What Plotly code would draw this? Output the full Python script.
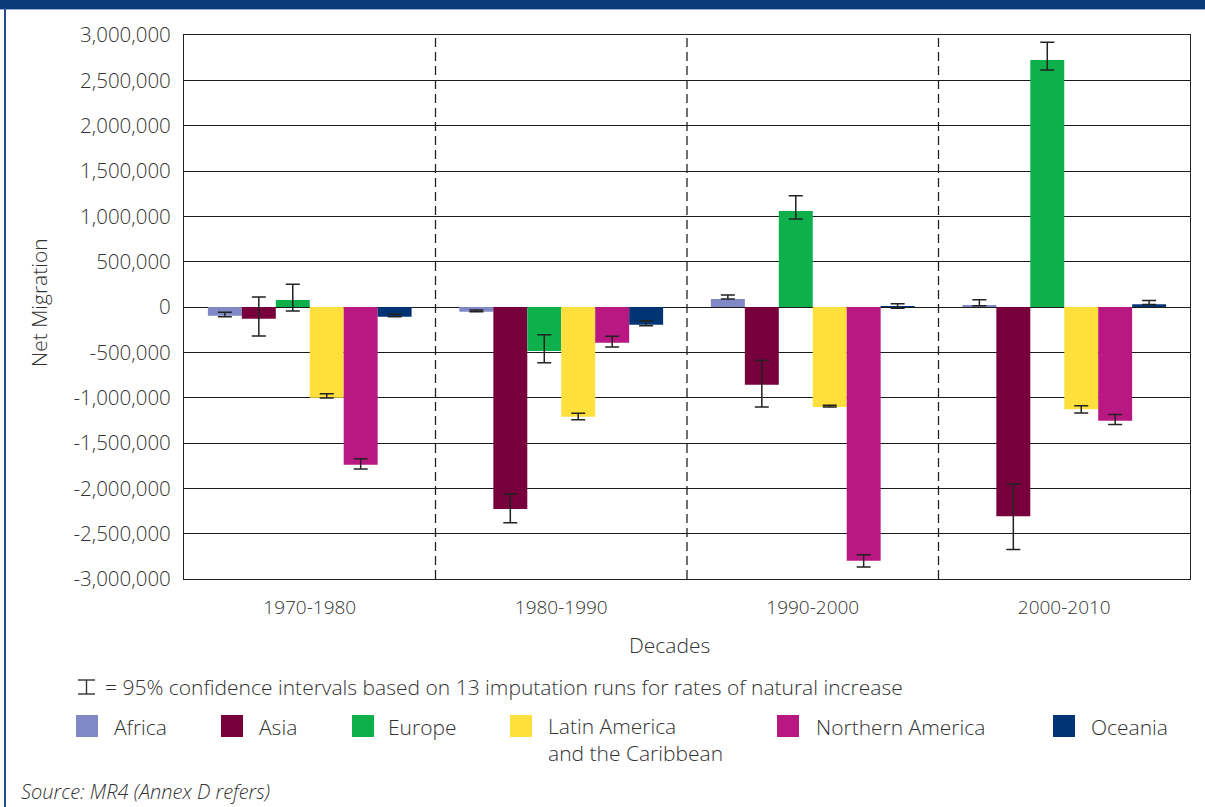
import plotly.graph_objects as go

# ---------------- data ----------------
decades = ["1970-1980", "1980-1990", "1990-2000", "2000-2010"]
regions = ["Africa", "Asia", "Europe", "Latin America and the Caribbean",
           "Northern America", "Oceania"]
legend_labels = ["Africa", "Asia", "Europe", "Latin America<br>and the Caribbean",
                 "Northern America", "Oceania"]
colors = ["#8088C6", "#77003C", "#0DB04B", "#FEDF3B", "#B91781", "#003473"]

africa = [-96000, -52000, 88000, 22000]
asia = [-129000, -2228000, -857000, -2309000]
europe = [77000, -485000, 1059000, 2724000]
latin = [-1000000, -1210000, -1103000, -1128000]
n_america = [-1739000, -394000, -2798000, -1254000]
oceania = [-107000, -195000, 5000, 30000]

# 95% confidence interval bounds (upper, lower)
africa_ci_hi = [-58000, -33000, 132000, 81000]
africa_ci_lo = [-107000, -52000, 88000, 14000]
asia_ci_hi = [110000, -2062000, -588000, -1951000]
asia_ci_lo = [-320000, -2379000, -1103000, -2676000]
europe_ci_hi = [250000, -305000, 1228000, 2921000]
europe_ci_lo = [-44000, -614000, 971000, 2614000]
latin_ci_hi = [-956000, -1172000, -1084000, -1089000]
latin_ci_lo = [-1003000, -1243000, -1103000, -1168000]
n_america_ci_hi = [-1673000, -323000, -2732000, -1187000]
n_america_ci_lo = [-1787000, -441000, -2868000, -1297000]
oceania_ci_hi = [-81000, -151000, 36000, 73000]
oceania_ci_lo = [-107000, -206000, -14000, 27000]

y_tickvals = [3000000, 2500000, 2000000, 1500000, 1000000, 500000, 0,
              -500000, -1000000, -1500000, -2000000, -2500000, -3000000]
y_ticktext = ["3,000,000", "2,500,000", "2,000,000", "1,500,000", "1,000,000",
              "500,000", "0", "-500,000", "-1,000,000", "-1,500,000",
              "-2,000,000", "-2,500,000", "-3,000,000"]

series = [africa, asia, europe, latin, n_america, oceania]
ci_hi = [africa_ci_hi, asia_ci_hi, europe_ci_hi, latin_ci_hi, n_america_ci_hi, oceania_ci_hi]
ci_lo = [africa_ci_lo, asia_ci_lo, europe_ci_lo, latin_ci_lo, n_america_ci_lo, oceania_ci_lo]

# ---------------- figure ----------------
W, H = 1205, 807
L, R, T, B = 184, 15, 35, 228
PW, PH = W - L - R, H - T - B

def xp(px):
    return (px - L) / PW

def yp(py):
    return (H - B - py) / PH

FONT = "'Open Sans', Lato, sans-serif"
WT = 300
TXT = "#333333"

def f(size):
    return dict(family=FONT, size=size, color=TXT, weight=WT)

fig = go.Figure()
for name, vals, hi, lo, col in zip(regions, series, ci_hi, ci_lo, colors):
    plus = [max(0, h - v) for h, v in zip(hi, vals)]
    minus = [max(0, v - l) for l, v in zip(lo, vals)]
    fig.add_trace(go.Bar(
        name=name, x=decades, y=vals, marker=dict(color=col, line=dict(width=0)),
        error_y=dict(type="data", array=plus, arrayminus=minus, symmetric=False,
                     color="#222222", thickness=1.5, width=7),
        showlegend=False,
    ))

shapes = []
# dashed separators between decades
for i in range(len(decades) - 1):
    shapes.append(dict(type="line", xref="x", yref="paper", x0=i + 0.5, x1=i + 0.5,
                       y0=0, y1=1, line=dict(color="#222222", width=1.3, dash="9px,5px"),
                       layer="above"))
# top band and left border
shapes.append(dict(type="rect", xref="paper", yref="paper", x0=xp(0), x1=xp(W),
                   y0=yp(9), y1=yp(-2), fillcolor="#0A3A78", line=dict(width=0)))
shapes.append(dict(type="line", xref="paper", yref="paper", x0=xp(0), x1=xp(W),
                   y0=yp(9.5), y1=yp(9.5), line=dict(color="#9DB3D6", width=1)))
shapes.append(dict(type="line", xref="paper", yref="paper", x0=xp(5), x1=xp(5),
                   y0=yp(H), y1=yp(8), line=dict(color="#1F4F8F", width=2)))
# error bar symbol in note
sx0, sx1, sxc = 78, 95, 86.5
shapes.append(dict(type="line", xref="paper", yref="paper", x0=xp(sxc), x1=xp(sxc),
                   y0=yp(694), y1=yp(680), line=dict(color=TXT, width=1.4)))
for sy in (680, 694):
    shapes.append(dict(type="line", xref="paper", yref="paper", x0=xp(sx0), x1=xp(sx1),
                       y0=yp(sy), y1=yp(sy), line=dict(color=TXT, width=1.4)))

annotations = []
# legend
sq_left = [76, 221, 352, 510, 777, 1053]
txt_left = [113, 258, 387, 547, 815, 1090]
for lab, col, sl, tl in zip(legend_labels, colors, sq_left, txt_left):
    shapes.append(dict(type="rect", xref="paper", yref="paper", x0=xp(sl), x1=xp(sl + 22),
                       y0=yp(737), y1=yp(715), fillcolor=col, line=dict(width=0)))
    n_lines = lab.count("<br>") + 1
    annotations.append(dict(text=lab, xref="paper", yref="paper", x=xp(tl - 1),
                            y=yp(727 + 12.5 * (n_lines - 1)), xanchor="left",
                            yanchor="middle", align="left", showarrow=False, font=f(21)))

annotations.append(dict(text="= 95% confidence intervals based on 13 imputation runs for rates of natural increase",
                        xref="paper", yref="paper", x=xp(103), y=yp(687), xanchor="left",
                        yanchor="middle", showarrow=False, font=f(21)))
annotations.append(dict(text="<i>Source: MR4 (Annex D refers)</i>", xref="paper", yref="paper",
                        x=xp(19), y=yp(791), xanchor="left", yanchor="middle", showarrow=False,
                        font=f(20)))
annotations.append(dict(text="Decades", xref="paper", yref="paper", x=xp(669), y=yp(645),
                        xanchor="center", yanchor="middle", showarrow=False, font=f(21)))
annotations.append(dict(text="Net Migration", xref="paper", yref="paper", x=xp(39), y=yp(303),
                        xanchor="center", yanchor="middle", showarrow=False, textangle=-90,
                        font=f(21)))

fig.update_layout(
    width=W, height=H,
    margin=dict(l=L, r=R, t=T, b=B, pad=0),
    paper_bgcolor="white", plot_bgcolor="white",
    barmode="group", bargap=0.19, bargroupgap=0,
    font=f(18),
    shapes=shapes, annotations=annotations,
    showlegend=False,
)
fig.update_xaxes(
    range=[-0.5, 3.5], showgrid=False, showline=True, mirror=True,
    linecolor="#222222", linewidth=1.2, ticks="outside", ticklen=11,
    tickcolor="rgba(0,0,0,0)", tickfont=f(19),
)
fig.update_yaxes(
    range=[-3000000, 3000000], tickvals=y_tickvals, ticktext=y_ticktext,
    showgrid=True, gridcolor="#1a1a1a", gridwidth=1.2,
    zeroline=True, zerolinecolor="#1a1a1a", zerolinewidth=1.2,
    showline=True, mirror=True, linecolor="#222222", linewidth=1.2,
    ticks="outside", ticklen=8, tickcolor="rgba(0,0,0,0)",
    tickfont=f(20.5),
)

fig.write_html("out.html", config={"displayModeBar": False},
               post_script="document.body.style.margin='0';")
